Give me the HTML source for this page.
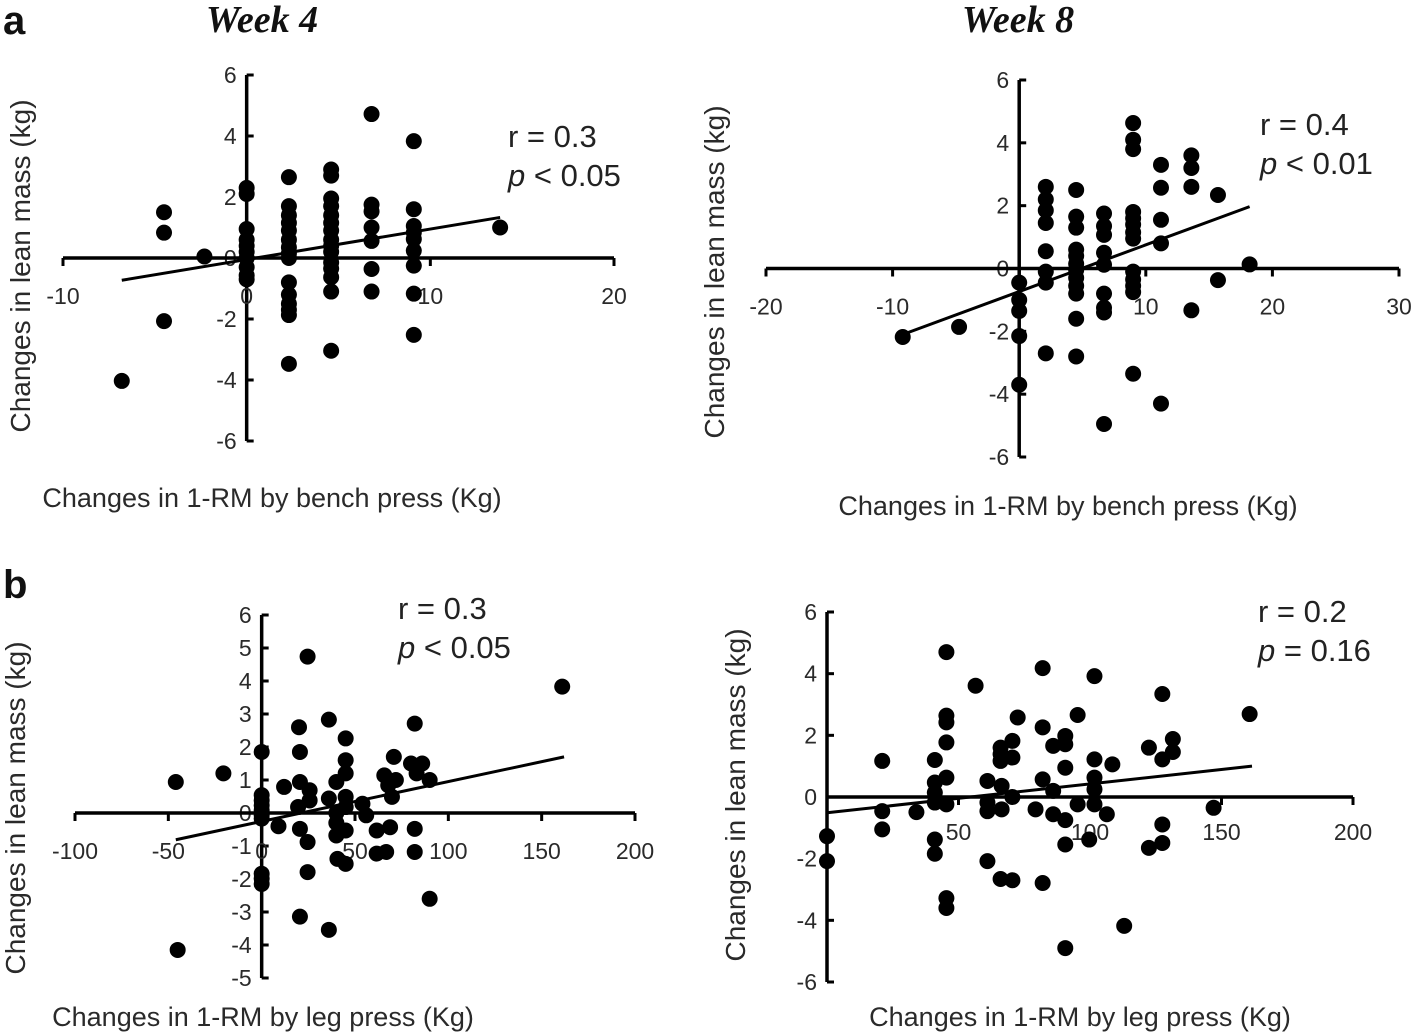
<!DOCTYPE html>
<html><head><meta charset="utf-8"><style>
html,body{margin:0;padding:0;background:#fff;}
svg{display:block;font-family:"Liberation Sans",sans-serif;}
</style></head><body>
<svg id="fig" width="1418" height="1036" viewBox="0 0 1418 1036">
<text x="3" y="34" font-size="40" font-weight="bold" fill="#111">a</text>
<text x="3" y="598" font-size="40" font-weight="bold" fill="#111">b</text>
<text x="262" y="32" font-size="38" font-weight="bold" font-style="italic" font-family="Liberation Serif, serif" text-anchor="middle" fill="#111">Week 4</text>
<text x="1018" y="32" font-size="38" font-weight="bold" font-style="italic" font-family="Liberation Serif, serif" text-anchor="middle" fill="#111">Week 8</text>
</svg>
<script>
// Panel 1: Week 4 bench press
const p1X = [-6.8,-4.5,-4.5,-4.5,-2.3,0,0,0,0,0,0,0,0,0,0,2.3,2.3,2.3,2.3,2.3,2.3,2.3,2.3,2.3,2.3,2.3,2.3,2.3,2.3,2.3,4.6,4.6,4.6,4.6,4.6,4.6,4.6,4.6,4.6,4.6,4.6,4.6,4.6,4.6,4.6,6.8,6.8,6.8,6.8,6.8,6.8,6.8,9.1,9.1,9.1,9.1,9.1,9.1,9.1,9.1,9.1,13.8];
const p1Y = [-4.03,1.5,0.83,-2.07,0.05,2.3,2.1,0.95,0.6,0.4,0.2,0,-0.3,-0.57,-0.7,2.65,1.7,1.4,1.15,0.9,0.6,0.35,0.15,0,-0.8,-1.2,-1.5,-1.7,-1.87,-3.47,2.9,2.7,1.95,1.7,1.4,1.15,0.9,0.6,0.4,0.2,-0.15,-0.35,-0.63,-1.1,-3.04,4.72,1.75,1.53,1.0,0.56,-0.36,-1.1,3.83,1.6,1.05,0.83,0.62,0.24,-0.25,-1.17,-2.52,1.0];
const p1Trend = [[-6.8,-0.73],[13.8,1.33]];
const p1XTicks = [-10,0,10,20];
const p1YTicks = [6,4,2,0,-2,-4,-6];
// Panel 2: Week 8 bench press
const p2X = [-9.2,-4.75,0,0,0,0,0,2.1,2.1,2.1,2.1,2.1,2.1,2.1,2.1,4.5,4.5,4.5,4.5,4.5,4.5,4.5,4.5,4.5,4.5,4.5,4.5,6.7,6.7,6.7,6.7,6.7,6.7,6.7,6.7,6.7,9,9,9,9,9,9,9,9,9,9,9,9,9,11.2,11.2,11.2,11.2,11.2,13.6,13.6,13.6,13.6,15.7,15.7,18.2];
const p2Y = [-2.18,-1.86,-0.45,-1.0,-1.35,-2.15,-3.7,2.6,2.2,1.85,1.45,0.55,-0.1,-0.45,-2.7,2.5,1.65,1.3,0.6,0.4,0.15,-0.05,-0.3,-0.55,-0.8,-1.6,-2.8,1.75,1.35,1.07,0.5,0.12,-0.8,-1.25,-1.4,-4.95,4.63,4.1,3.8,1.8,1.6,1.4,1.15,0.95,-0.1,-0.35,-0.55,-0.75,-3.35,3.3,2.57,1.55,0.8,-4.3,3.6,3.2,2.6,-1.33,2.34,-0.37,0.13];
const p2Trend = [[-9.2,-2.1],[18.2,1.97]];
const p2XTicks = [-20,-10,0,10,20,30];
const p2YTicks = [6,4,2,0,-2,-4,-6];
// Panel 3: leg press (week 4)
const p3X = [-46,-20.5,-45,0,0,0,0,0,0,0,0,0,0,9,12,20,20.5,20.5,19.5,20.5,20.5,24.6,25.7,25.7,24.6,24.6,36,36,36,40,40,40,40,40.6,45,45,45,45,45,45,45,54,56,61.6,61.6,66.7,65.7,67.8,69.8,71.9,70.8,68.8,82,80,86,83,90,82,82,90,161];
const p3Y = [0.94,1.2,-4.15,1.85,0.54,0.38,0.23,0.08,-0.07,-0.17,-1.84,-1.99,-2.15,-0.4,0.79,2.6,1.85,0.94,0.18,-0.48,-3.14,4.74,0.69,0.38,-0.88,-1.79,2.83,0.44,-3.54,0.94,0,-0.3,-0.68,-1.39,2.26,1.6,1.2,0.49,0.18,-0.53,-1.54,0.28,-0.07,-0.53,-1.23,-1.18,1.14,0.84,0.49,1.0,1.7,-0.43,2.71,1.5,1.5,1.2,1.0,-0.48,-1.18,-2.6,3.83];
const p3Trend = [[-46,-0.81],[162,1.7]];
const p3XTicks = [-100,-50,0,50,100,150,200];
const p3YTicks = [6,5,4,3,2,1,0,-1,-2,-3,-4,-5];
// Panel 4: leg press (week 8)
const p4X = [0,0,21,21,21,34,41,41,41,41,41,41,45.4,45.4,45.4,45.4,45.4,45.4,45.4,45.4,56.5,61,61,61,61,66,66,66,66.4,66.4,66,70.5,70.5,70.5,70.5,72.5,79.3,82,82,82,82,86,86,86,90.6,90.6,90.6,90.6,90.6,90.6,95.3,95.3,101.7,101.7,101.7,101.7,101.7,99.7,108.5,106.4,113,122.4,122.4,127.5,127.5,127.5,127.5,131.5,131.5,147,160.7];
const p4Y = [-1.27,-2.08,1.17,-0.46,-1.05,-0.49,1.2,0.47,0.14,-0.18,-1.38,-1.84,4.7,2.64,2.42,1.77,0.63,-0.24,-3.28,-3.6,3.61,0.52,-0.18,-0.46,-2.08,1.6,1.39,1.17,0.36,-0.4,-2.66,1.82,1.28,0,-2.7,2.58,-0.4,4.18,2.26,0.57,-2.79,1.66,-0.56,0.2,1.98,1.71,0.95,-0.75,-1.54,-4.9,2.66,-0.24,3.92,1.22,0.63,0.25,-0.24,-1.38,1.06,-0.56,-4.18,1.6,-1.65,3.34,1.22,-0.89,-1.49,1.88,1.46,-0.35,2.69];
const p4Trend = [[0,-0.51],[161.6,1.0]];
const p4XTicks = [50,100,150,200];
const p4YTicks = [6,4,2,0,-2,-4,-6];

const NS = 'http://www.w3.org/2000/svg';
const svg = document.getElementById('fig');
function mk(tag, attrs, parent){
  const e = document.createElementNS(NS, tag);
  for (const k in attrs) e.setAttribute(k, attrs[k]);
  (parent||svg).appendChild(e);
  return e;
}
function panel(cfg){
  const g = mk('g', {});
  
  
  const sx = v => cfg.px0 + (v - cfg.xa) * (cfg.px1 - cfg.px0) / (cfg.xb - cfg.xa);
  const sy = v => cfg.py0 + (v - cfg.ya) * (cfg.py1 - cfg.py0) / (cfg.yb - cfg.ya);
  const ax0 = sx(0), ay0 = sy(0);
  const yMin = Math.min(...cfg.yTicks), yMax = Math.max(...cfg.yTicks);
  const yl = mk('line', {x1:ax0, x2:ax0, y1:sy(yMax), y2:sy(yMin), stroke:'#000', 'stroke-width':3.5}, g);
  
  
  cfg.yTicks.forEach(t => {
    mk('line', {x1:ax0, x2:ax0+7, y1:sy(t), y2:sy(t), stroke:'#000', 'stroke-width':3}, g);
    const tx = mk('text', {x:ax0-10, y:sy(t)+8, 'font-size':23, 'text-anchor':'end', fill:'#2a2a2a'}, g);
    tx.textContent = t;
    
    
  });
  const xMin = Math.min(cfg.xAxisFrom, ...cfg.xTicks), xMax = Math.max(...cfg.xTicks);
  const xl = mk('line', {x1:sx(xMin), x2:sx(xMax), y1:ay0, y2:ay0, stroke:'#000', 'stroke-width':3.5}, g);
  
  
  cfg.xTicks.forEach(t => {
    mk('line', {x1:sx(t), x2:sx(t), y1:ay0, y2:ay0+8, stroke:'#000', 'stroke-width':3}, g);
    const tx = mk('text', {x:sx(t), y:ay0+cfg.xLabelDy, 'font-size':23, 'text-anchor':'middle', fill:'#2a2a2a'}, g);
    tx.textContent = t;
    
    
  });
  cfg.xs.forEach((x, i) => {
    const c = mk('circle', {cx:sx(x), cy:sy(cfg.ys[i]), r:8, fill:'#000'}, g);
    
    
  });
  const tl = mk('line', {x1:sx(cfg.trend[0][0]), y1:sy(cfg.trend[0][1]), x2:sx(cfg.trend[1][0]), y2:sy(cfg.trend[1][1]), stroke:'#000', 'stroke-width':3}, g);
  
  
  const yt = mk('text', {x:0, y:0, 'font-size':28, 'text-anchor':'middle', fill:'#2a2a2a', transform:`translate(${cfg.ytX},${cfg.ytY}) rotate(-90)`}, g);
  yt.textContent = 'Changes in lean mass (kg)';
  
  
  const xt = mk('text', {x:cfg.xtX, y:cfg.xtY, 'font-size':27, 'text-anchor':'middle', fill:'#2a2a2a'}, g);
  xt.textContent = cfg.xTitle;
  
  
  const r = mk('text', {x:cfg.annX, y:cfg.annY, 'font-size':31, fill:'#222'}, g);
  r.textContent = cfg.rText;
  
  
  const p = mk('text', {x:cfg.annX, y:cfg.annY+39, 'font-size':31, fill:'#222'}, g);
  p.innerHTML = '<tspan font-style="italic">p</tspan>' + cfg.pText;
  
  
}
panel({name:'week4-bench-chart', xs:p1X, ys:p1Y, trend:p1Trend, xTicks:p1XTicks, yTicks:p1YTicks, xAxisFrom:-10,
  xa:-10, xb:20, px0:63, px1:614, ya:6, yb:-6, py0:75, py1:441, xLabelDy:46,
  ytX:30, ytY:266, xtX:272, xtY:507, xTitle:'Changes in 1-RM by bench press (Kg)',
  annX:508, annY:147, rText:'r = 0.3', pText:' < 0.05'});
panel({name:'week8-bench-chart', xs:p2X, ys:p2Y, trend:p2Trend, xTicks:p2XTicks, yTicks:p2YTicks, xAxisFrom:-20,
  xa:-20, xb:30, px0:766, px1:1399, ya:6, yb:-6, py0:80, py1:457, xLabelDy:46,
  ytX:724, ytY:272, xtX:1068, xtY:515, xTitle:'Changes in 1-RM by bench press (Kg)',
  annX:1260, annY:135, rText:'r = 0.4', pText:' < 0.01'});
panel({name:'week4-leg-chart', xs:p3X, ys:p3Y, trend:p3Trend, xTicks:p3XTicks, yTicks:p3YTicks, xAxisFrom:-100,
  xa:-100, xb:200, px0:75, px1:635, ya:6, yb:-5, py0:615, py1:978, xLabelDy:46,
  ytX:25, ytY:808, xtX:263, xtY:1026, xTitle:'Changes in 1-RM by leg press (Kg)',
  annX:398, annY:619, rText:'r = 0.3', pText:' < 0.05'});
panel({name:'week8-leg-chart', xs:p4X, ys:p4Y, trend:p4Trend, xTicks:p4XTicks, yTicks:p4YTicks, xAxisFrom:0,
  xa:0, xb:200, px0:827, px1:1353, ya:6, yb:-6, py0:612, py1:982, xLabelDy:43,
  ytX:745, ytY:795, xtX:1080, xtY:1026, xTitle:'Changes in 1-RM by leg press (Kg)',
  annX:1258, annY:622, rText:'r = 0.2', pText:' = 0.16'});
</script>
</body></html>
